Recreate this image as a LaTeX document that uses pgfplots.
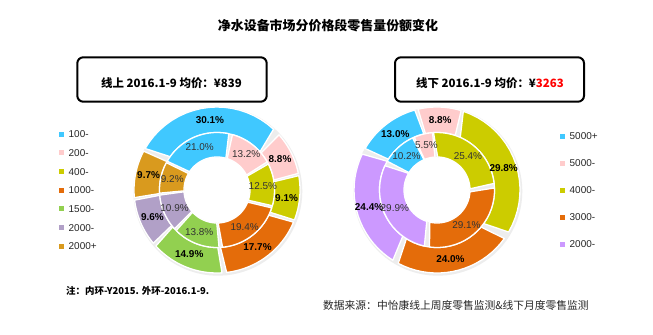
\documentclass[border=0pt]{standalone}
\usepackage{fontspec}
\setmainfont{Liberation Sans}
\newfontfamily\cjk{Noto Sans CJK SC}
\usepackage{pgfplots}
\pgfplotsset{compat=1.18}
\definecolor{cA}{HTML}{40C8FF}
\definecolor{cB}{HTML}{FFCCCC}
\definecolor{cC}{HTML}{CCCC00}
\definecolor{cD}{HTML}{E46C0A}
\definecolor{cE}{HTML}{92D050}
\definecolor{cF}{HTML}{B1A0C7}
\definecolor{cG}{HTML}{D99A1E}
\definecolor{cH}{HTML}{CC99FF}
\tikzset{
  olbl/.style={font=\fontsize{10}{12}\selectfont\bfseries, text=black, anchor=center, inner sep=0pt},
  ilbl/.style={font=\fontsize{10}{12}\selectfont, text=black!80, anchor=center, inner sep=0pt}
}
\newcommand\curA{150}
% #1 colour, #2 share (%), #3 inner radius, #4 outer radius, #5 label radius, #6 label style
\newcommand\seg[6]{%
  \pgfmathsetmacro\sa{\curA}%
  \pgfmathsetmacro\sb{\curA-3.6*#2}%
  \pgfmathsetmacro\sm{\curA-1.8*#2}%
  \xdef\curA{\sb}%
  \edef\doit{%
    \noexpand\addplot[forget plot, fill=#1, draw=white, line width=1.3bp, line join=round,
      samples at={0,0.05,...,1,2,2.05,...,3}, variable=\noexpand\t]
    ({((\noexpand\t<1.5)?#4:#3)*cos(((\noexpand\t<1.5)?((\sa)+((\sb)-(\sa))*\noexpand\t):((\sb)+((\sa)-(\sb))*(\noexpand\t-2))))},
     {((\noexpand\t<1.5)?#4:#3)*sin(((\noexpand\t<1.5)?((\sa)+((\sb)-(\sa))*\noexpand\t):((\sb)+((\sa)-(\sb))*(\noexpand\t-2))))}) -- cycle;%
    \noexpand\addplot[forget plot, data cs=polar, only marks, mark=none, point meta=explicit symbolic,
      nodes near coords, nodes near coords style={#6}] coordinates {(\sm,#5) [#2\noexpand\%]};%
  }\doit}
\pgfplotsset{
  donut/.style={at={(0,0)}, anchor=south west, scale only axis, width=653bp, height=334bp,
    hide axis, clip=false, enlargelimits=false,
    legend image code/.code={\fill[##1, draw=none] (0bp,-2.5bp) rectangle (5bp,2.5bp);},
    legend cell align=left,
    legend style={draw=none, fill=none, font=\fontsize{10}{12}\selectfont, text=black!85,
      nodes={inner sep=0.5bp, text height=7bp, text depth=0bp},
      /tikz/every odd column/.append style={column sep=4bp}}
  },
  shadow/.style={forget plot, fill=black!7, draw=none, domain=0:360, samples=91},
  hole/.style={forget plot, fill=white, draw=none, domain=0:360, samples=61}
}
\begin{document}
\begin{tikzpicture}[x=1bp,y=1bp]
\useasboundingbox[fill=white] (0,0) rectangle (653,334);
% ---------- left donut (online) ----------
\begin{axis}[donut, xmin=-217, xmax=436, ymin=-144, ymax=190,
  legend style={at={(axis cs:-161,62)}, anchor=north west, row sep=10.7bp}]
\addlegendimage{fill=cA}\addlegendentry{100-}
\addlegendimage{fill=cB}\addlegendentry{200-}
\addlegendimage{fill=cC}\addlegendentry{400-}
\addlegendimage{fill=cD}\addlegendentry{1000-}
\addlegendimage{fill=cE}\addlegendentry{1500-}
\addlegendimage{fill=cF}\addlegendentry{2000-}
\addlegendimage{fill=cG}\addlegendentry{2000+}
\addplot[shadow] ({84.5*cos(x)+0.8},{84.5*sin(x)-1.2});
\addplot[hole] ({33*cos(x)},{33*sin(x)});
% outer ring: 2016.1-9
\gdef\curA{150}
\seg{cA}{30.1}{57.5}{83}{70}{olbl}
\seg{cB}{8.8}{57.5}{83}{70}{olbl}
\seg{cC}{9.1}{57.5}{83}{70}{olbl}
\seg{cD}{17.7}{57.5}{83}{70}{olbl}
\seg{cE}{14.9}{57.5}{83}{70}{olbl}
\seg{cF}{9.6}{57.5}{83}{70}{olbl}
\seg{cG}{9.7}{57.5}{83}{70}{olbl}
% inner ring: 2015
\gdef\curA{150}
\seg{cA}{21.0}{33}{57.5}{46}{ilbl}
\seg{cB}{13.2}{33}{57.5}{46}{ilbl}
\seg{cC}{12.5}{33}{57.5}{46}{ilbl}
\seg{cD}{19.4}{33}{57.5}{46}{ilbl}
\seg{cE}{13.8}{33}{57.5}{46}{ilbl}
\seg{cF}{10.9}{33}{57.5}{46}{ilbl}
\seg{cG}{9.2}{33}{57.5}{46}{ilbl}
\end{axis}
% ---------- right donut (offline) ----------
\begin{axis}[donut, xmin=-437, xmax=216, ymin=-144, ymax=190,
  legend style={at={(axis cs:120,60)}, anchor=north west, row sep=19bp}]
\addlegendimage{fill=cA}\addlegendentry{5000+}
\addlegendimage{fill=cB}\addlegendentry{5000-}
\addlegendimage{fill=cC}\addlegendentry{4000-}
\addlegendimage{fill=cD}\addlegendentry{3000-}
\addlegendimage{fill=cH}\addlegendentry{2000-}
\addplot[shadow] ({84.5*cos(x)+0.8},{84.5*sin(x)-1.2});
\addplot[hole] ({33*cos(x)},{33*sin(x)});
\gdef\curA{150}
\seg{cA}{13.0}{57.5}{83}{70}{olbl}
\seg{cB}{8.8}{57.5}{83}{70}{olbl}
\seg{cC}{29.8}{57.5}{83}{70}{olbl}
\seg{cD}{24.0}{57.5}{83}{70}{olbl}
\seg{cH}{24.4}{57.5}{83}{70}{olbl}
\gdef\curA{150}
\seg{cA}{10.2}{33}{57.5}{46}{ilbl}
\seg{cB}{5.5}{33}{57.5}{46}{ilbl}
\seg{cC}{25.4}{33}{57.5}{46}{ilbl}
\seg{cD}{29.1}{33}{57.5}{46}{ilbl}
\seg{cH}{29.9}{33}{57.5}{46}{ilbl}
\end{axis}
% ---------- texts ----------
\node[font=\cjk\bfseries\fontsize{13}{15}\selectfont] at (328,308.3) {净水设备市场分价格段零售量份额变化};
\draw[line width=2bp, rounded corners=6bp] (77.3,232.3) rectangle (266.7,276.7);
\draw[line width=2bp, rounded corners=6bp] (395,232.3) rectangle (584,276.7);
\node[font=\cjk\bfseries\fontsize{11.5}{13}\selectfont] at (171.5,250.7) {线上 2016.1-9 均价：¥839};
\node[font=\cjk\bfseries\fontsize{11.5}{13}\selectfont] at (490,250.7) {线下 2016.1-9 均价：¥\textcolor{red}{3263}};
\node[font=\cjk\bfseries\fontsize{9.5}{11}\selectfont, anchor=west, inner sep=0pt] at (66,43.3) {注：内环-Y2015. 外环-2016.1-9.};
\node[font=\cjk\fontsize{10.8}{12}\selectfont, anchor=west, inner sep=0pt, text=black!85] at (323,29) {数据来源：中怡康线上周度零售监测\&线下月度零售监测};
\end{tikzpicture}
\end{document}
